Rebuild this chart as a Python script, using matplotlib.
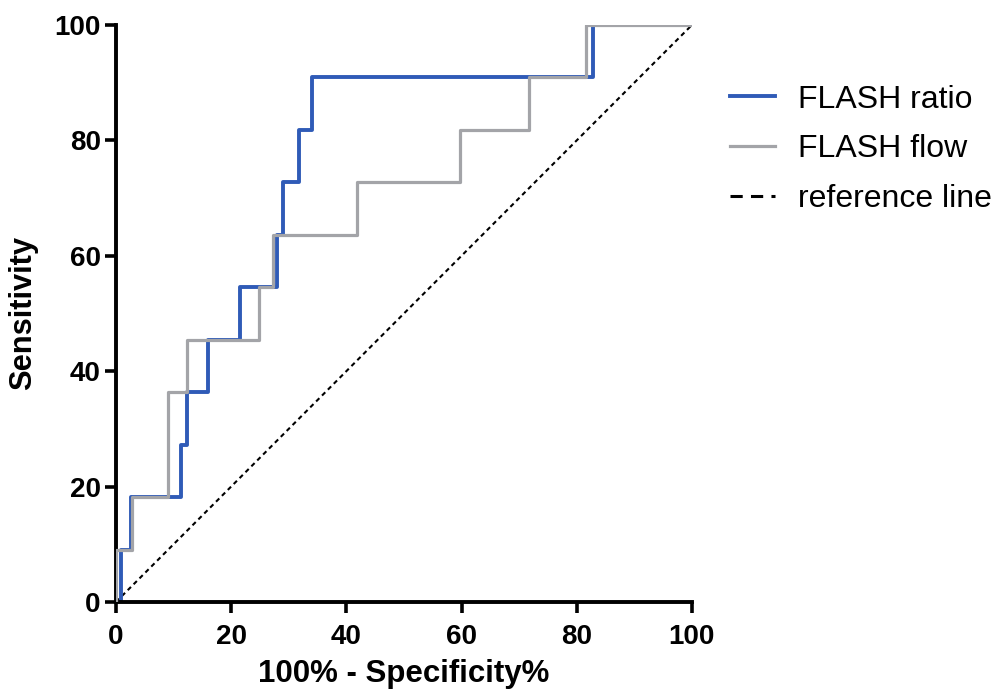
import matplotlib
matplotlib.use("Agg")
import matplotlib.pyplot as plt
from matplotlib.lines import Line2D

plt.rcParams['font.family'] = ['Liberation Sans', 'DejaVu Sans']

# ROC step points (100% - specificity, sensitivity)
ratio_x = [0, 0.8, 2.6, 11.3, 12.3, 16.0, 21.5, 28.0, 29.0, 31.7, 34.0, 82.9, 100]
ratio_y = [0, 9.09, 18.18, 27.27, 36.36, 45.45, 54.55, 63.64, 72.73, 81.82, 90.91, 100, 100]

flow_x = [0, 0, 2.7, 9.1, 9.1, 12.4, 24.9, 27.2, 41.8, 59.7, 71.7, 81.6, 100]
flow_y = [0, 9.09, 18.18, 27.27, 36.36, 45.45, 54.55, 63.64, 72.73, 81.82, 90.91, 100, 100]

ref_x = [0, 100]
ref_y = [0, 100]

ticks = [0, 20, 40, 60, 80, 100]

blue = '#2f5bb7'
grey = '#a3a4a8'

fig = plt.figure(figsize=(9.97, 6.94), dpi=100)
ax = fig.add_axes([0.1163, 0.1326, 0.5777, 0.8314])

ax.plot(ref_x, ref_y, color='black', linestyle=(0, (2.2, 1.8)), linewidth=1.5, zorder=1)
ax.plot(ratio_x, ratio_y, drawstyle='steps-post', color=blue, linewidth=2.8, zorder=2)
ax.plot(flow_x, flow_y, drawstyle='steps-post', color=grey, linewidth=2.3, zorder=3)

ax.set_xlim(0, 100)
ax.set_ylim(0, 100)
ax.set_xticks(ticks)
ax.set_yticks(ticks)
for sp in ['top', 'right']:
    ax.spines[sp].set_visible(False)
for sp in ['left', 'bottom']:
    ax.spines[sp].set_linewidth(2.8)
ax.tick_params(direction='out', length=8, width=2.6, labelsize=20)
ax.tick_params(axis='x', pad=8)
ax.tick_params(axis='y', pad=3)
for lab in ax.get_xticklabels() + ax.get_yticklabels():
    lab.set_fontweight('bold')

ax.set_xlabel('100% - Specificity%', fontsize=22.5, fontweight='bold', labelpad=6)
ax.set_ylabel('Sensitivity', fontsize=22.2, fontweight='bold', labelpad=12)

# legend proxies (GraphPad-style)
handles = [Line2D([], [], color=blue, linewidth=2.8),
           Line2D([], [], color=grey, linewidth=2.3),
           Line2D([], [], color='black', linewidth=2.2, linestyle=(0, (4, 2.7)))]
labels = ['FLASH ratio', 'FLASH flow', 'reference line']
fig.legend(handles, labels, loc='upper left', bbox_to_anchor=(0.732, 0.878), frameon=False,
           fontsize=23, handlelength=1.42, handletextpad=0.7, labelspacing=0.62,
           borderaxespad=0, borderpad=0)

fig.savefig('out.png', dpi=100)
